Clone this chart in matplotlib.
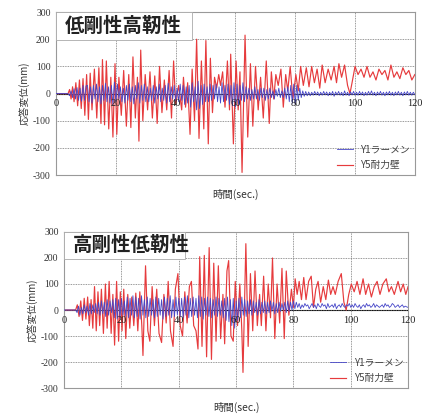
import numpy as np
import matplotlib.pyplot as plt
import matplotlib.transforms as mtransforms
from matplotlib.patches import Rectangle

CJK = ['Noto Sans CJK JP', 'DejaVu Sans']
SERIF = ['Liberation Serif', 'DejaVu Serif']

# ---- 低剛性高靭性 (upper panel) ----
top_red_t = [0, 4, 4.5, 5, 5.5, 6, 6.6, 7.2, 7.8, 8.4, 9, 9.6, 10.2, 10.8, 11.4, 12,
             12.8, 13.6, 14.3, 15, 15.5, 16.2, 16.8, 17.6, 18.3, 19, 19.7, 20.3, 21,
             21.8, 22.6, 23.5, 24.3, 25, 25.7, 26.5, 27.2, 27.7, 28.3, 29, 29.8, 30.6,
             31.4, 32.2, 33, 33.8, 34.6, 35.4, 36.2, 37, 37.8, 38.6, 39.3, 40, 41, 42,
             42.6, 43.3, 44, 44.8, 45.5, 46.3, 47.0, 47.8, 48.6, 49.4, 50.1, 50.9, 51.6,
             52.3, 53, 53.7, 54.4, 55, 55.7, 56.5, 57.3, 58, 58.4, 59.3, 60.2, 60.9,
             61.5, 62.2, 63.2, 64.1, 65, 65.8, 66.7, 67.6, 68.4, 69.3, 70.3, 71.3, 72,
             72.8, 73.5, 74.3, 75.2, 76, 76.8, 77.5, 78.3, 79.2, 80.2, 81, 81.8, 82.7,
             83.7, 84.6, 85.5, 86.4, 87.3, 88.2, 89, 90, 91, 92, 93, 93.8, 94.6, 95.5,
             96.5, 97.5, 98.3, 99, 100, 101, 102, 103, 104, 105, 106, 107, 108, 109,
             110, 111, 112, 113, 114, 115, 116, 117, 118, 119, 120]
top_red_v = [0, 0, 15, -20, 25, -30, 40, -45, 50, -55, 55, -80, 70, -95, 75, -60,
             90, -90, 95, -110, 125, -115, 120, -130, 60, -160, 110, -150, 60,
             -80, 85, -120, 70, -125, 135, -90, 60, -175, 160, -100, 70, -60,
             80, -90, 65, -110, 100, -70, 50, -60, 85, -90, 120, -40, 30, -60,
             60, -50, 40, -150, 90, -100, 200, -165, 120, -130, 195, -185, 130,
             -70, 60, 20, 70, 30, 80, -50, 120, -60, 145, -185, 120, -60,
             80, -290, 215, -160, 110, -120, 100, -60, 60, -90, 120, -110, 80,
             -20, 70, 30, 90, -50, 70, 10, 100, -20, 70, 10, 100, 30,
             95, 25, 100, 40, 90, 20, 105, 40, 90, 50, 100, 40, 110, 60,
             105, 30, 0, 40, 100, 70, 90, 60, 100, 60, 80, 50, 90, 70,
             85, 50, 105, 60, 80, 55, 95, 70, 85, 50, 70]
# Y1 sampled every 0.5 sec
top_blue_v = [0, 0, 0, 0, 0, 0, 0, 0, 0,
              -8, 10, -15, 18, -20, 22, -25, 20, -28, 30, -25, 28,
              30, -30, 25, -35, 30, -20, 35, -30, 25, -38, 30, -25, 38, -30, 25, -35, 30, -40, 42, -30,
              35, -20, 25, -30, 20, -35, 30, -25, 35, -30, 25, -38, 30, -20, 40, -35, 30, -25, 35, -30,
              25, -30, 20, -25, 30, -35, 25, -20, 35, -30, 20, -25, 30, -35, 38, -30, 25, -20, 30, -25,
              20, -30, 35, -25, 30, -40, 25, -35, 30, -50, 40, -30, 25, -60, 45, -55, 30, -40, 35, -30,
              25, -30, 35, -25, 30, -20, 35, -30, 25, -35, 40, -30, 30, -25, 35, -40, 30, -45, 40, -50,
              35, -40, 30, -25, 40, -30, 25, -20, 20, -25, 15, -20, 25, -20, 15, -25, 20, -15, 20, -25,
              15, -20, 20, -15, 10, -20, 15, -10, 20, -15, 10, -15, 20, -20, 25, -30, 30, -35, 35, -40,
              30, -25, 20, -15, 10, -10, 8, -8, 6, -8, 5, -6, 8, -5, 6, -8, 5, -6, 8, -5,
              6, -8, 5, -6, 8, -10, 6, -5, 8, -6, 5, -8, 10, -6, 5, -8, 6, -5, 8, -6,
              5, -6, 8, -5, 6, -8, 5, -6, 8, -5, 10, -6, 5, -8, 6, -5, 8, -6, 5, -8,
              6, -5, 8, -6, 5, -8, 6, -5, 8, -6, 5, -8, 6, -5, 8, -6, 5, -6, 5, -4]

# ---- 高剛性低靭性 (lower panel) ----
bot_red_t = [0, 4, 4.6, 5.2, 5.8, 6.4, 7, 7.6, 8.2, 8.8, 9.4, 10, 10.6, 11.2, 11.8,
             12.4, 13, 13.7, 14.4, 15, 15.7, 16.4, 17, 17.6, 18.3, 19, 19.6, 20.2,
             20.8, 21.5, 22.2, 22.9, 23.6, 24.3, 25, 25.7, 26.4, 27.1, 27.5, 28.4,
             29.2, 29.9, 30.7, 31.5, 32.3, 33.1, 34, 34.8, 35.6, 36.3, 37.1, 38,
             38.8, 39.7, 40.5, 41.3, 42.1, 42.9, 43.7, 44.4, 45.2, 46, 46.7, 47.3,
             48.1, 48.9, 49.7, 50.6, 51.4, 52.2, 53, 53.8, 54.6, 55.4, 56, 56.8, 57.4,
             58.2, 59, 59.7, 60.5, 61.3, 62, 62.4, 63.4, 64.2, 65, 65.8, 66.6, 67.4,
             68.2, 68.8, 69.6, 70.4, 71.2, 72, 72.7, 73.5, 74.3, 75.2, 76, 76.8, 77.5,
             78.4, 79.3, 80, 80.6, 81.3, 82, 82.8, 83.6, 84.4, 85.3, 86.2, 87, 87.8,
             88.6, 89.5, 90.4, 91.3, 92.2, 93, 93.8, 94.6, 95.6, 96.7, 97.6, 98.4,
             99.3, 100.2, 101.2, 102.2, 103.2, 104.3, 105.2, 106.2, 107.2, 108.2,
             109.2, 110.2, 111.2, 112.4, 113.3, 114.2, 115.2, 116.5, 117.4, 118.3,
             119.2, 120]
bot_red_v = [0, 0, 20, -25, 35, -40, 45, -35, 50, -60, 40, -70, 90, -80, 70,
             -60, 80, -90, 100, -70, 110, -90, 60, -135, 110, -120, 70, -80,
             80, -110, 60, -70, 50, -60, 65, -80, 70, -60, -175, 170,
             -80, -120, 90, -60, 80, -90, -125, 60, -50, 110, -80, -140,
             80, 140, -60, -100, 70, -50, 90, 110, -60, -80, -150, 205,
             -140, 210, -180, 240, -190, 180, -120, 170, -110, 60, -130, 150, 190,
             -100, -120, 110, -60, 100, -80, -240, 255, -140, 140, -80, 150, -60,
             60, -60, 130, -80, 100, -30, 200, -110, 100, -50, 160, -110, 150,
             -20, 80, 10, 120, 60, 110, 40, 125, 40, 110, 130, 10, 80,
             110, 30, 90, 40, 115, 60, 90, 60, 110, 140, 30, 0,
             60, 100, 70, 110, 60, 120, 60, 100, 50, 90,
             110, 60, 100, 120, 70, 90, 60, 110, 70, 100,
             60, 90]
bot_blue_v = [0, 0, 0, 0, 0, 0, 0, 0, 0,
              -10, 15, -20, 10, -15, 20, -10, 15, -20, 25, -15, 20,
              -10, 25, -15, 30, -20, 35, -15, 30, -25, 40, -20, 35, -10, 40, -30, 45, -35, 40, -30, 45,
              -20, 35, -25, 50, -30, 45, -20, 55, -30, 50, -25, 45, -35, 55, -20, 40, -30, 50, -25, 45,
              -20, 40, -30, 50, -25, 45, -20, 40, -35, 50, -25, 45, -20, 55, -30, 40, -25, 50, -20, 45,
              -25, 45, -30, 50, -20, 55, -30, 45, -25, 50, -20, 45, -30, 55, -25, 50, -35, 45, -20, 50,
              -25, 45, -30, 40, -20, 50, -25, 45, -20, 35, -30, 45, -40, 50, -45, 40, -60, 45, -70, 35,
              -40, 45, -30, 50, -20, 40, -25, 35, -15, 40, -20, 35, -10, 30, -20, 40, -15, 30, -10, 35,
              -15, 30, -10, 35, -5, 30, -15, 25, -10, 30, -5, 25, 0, 30, -10, 35, -5, 30, 0, 35,
              5, 30, 10, 25, 5, 20, 10, 25, 15, 20, 5, 15, 25, 10, 20, 5, 25, 15, 10, 25,
              15, 20, 5, 25, 10, 15, 20, 10, 25, 5, 15, 20, 10, 25, 15, 10, 20, 15, 25, 10,
              20, 10, 25, 15, 10, 20, 5, 15, 20, 10, 25, 15, 20, 10, 15, 25, 10, 20, 15, 10,
              15, 20, 10, 25, 15, 20, 10, 15, 25, 20, 10, 15, 20, 10, 15, 20, 10, 15, 12, 10]

x_ticks = [0, 20, 40, 60, 80, 100, 120]
y_ticks = [-300, -200, -100, 0, 100, 200, 300]
series_names = ['Y1ラーメン', 'Y5耐力壁']

RED = '#e63b3d'
BLUE = '#4646c8'


def draw_panel(fig, ax, red_t, red_v, blue_v, title, box_w):
    blue_t = 0.5 * np.arange(len(blue_v))
    ax.plot(blue_t, blue_v, color=BLUE, lw=0.6, label=series_names[0], zorder=3)
    ax.plot(red_t, red_v, color=RED, lw=0.85, label=series_names[1], zorder=2)
    ax.axhline(0, color='black', lw=0.8, zorder=1)

    ax.set_xlim(0, 120)
    ax.set_ylim(-300, 300)
    ax.set_xticks(x_ticks)
    ax.set_yticks(y_ticks)
    ax.set_yticklabels([str(v) for v in y_ticks], family=SERIF, fontsize=7, color='#333333')
    ax.tick_params(axis='both', length=0, pad=4)
    ax.tick_params(axis='x', labelbottom=False)
    ax.grid(True, color='#777777', lw=0.6, linestyle=(0, (1, 1)))
    for s in ax.spines.values():
        s.set_color('#999999')
        s.set_linewidth(0.8)

    # x tick labels sit just under the zero line, over the traces
    below_zero = mtransforms.offset_copy(ax.transData, fig=fig, y=-4, units='points')
    for xt in x_ticks:
        ax.text(xt, 0, str(xt), transform=below_zero, ha='center', va='top',
                family=SERIF, fontsize=7.5, color='#222222', zorder=6, clip_on=False)

    ax.set_xlabel('時間(sec.)', family=CJK, fontsize=7.5, color='#333333', labelpad=10)
    ax.set_ylabel('応答変位(mm)', family=CJK, fontsize=7, color='#333333', labelpad=2)

    ax.add_patch(Rectangle((0, 0.83), box_w, 0.17, transform=ax.transAxes,
                           facecolor='white', edgecolor='#aaaaaa', lw=0.6, zorder=4))
    ax.text(0.025, 0.915, title, transform=ax.transAxes, family=CJK, fontsize=14,
            fontweight='bold', va='center', ha='left', color='#222222', zorder=5)

    leg = ax.legend(loc='lower right', frameon=False, handlelength=1.6,
                    prop={'family': CJK, 'size': 7}, borderaxespad=0.1,
                    labelspacing=0.6)
    for txt in leg.get_texts():
        txt.set_color('#444444')


fig = plt.figure(figsize=(4.22, 4.15), dpi=100)
ax1 = fig.add_axes([0.133, 0.578, 0.850, 0.393])
ax2 = fig.add_axes([0.152, 0.065, 0.815, 0.376])

draw_panel(fig, ax1, top_red_t, top_red_v, top_blue_v, '低剛性高靭性', 0.38)
draw_panel(fig, ax2, bot_red_t, bot_red_v, bot_blue_v, '高剛性低靭性', 0.35)

fig.savefig('out.png', dpi=100)
